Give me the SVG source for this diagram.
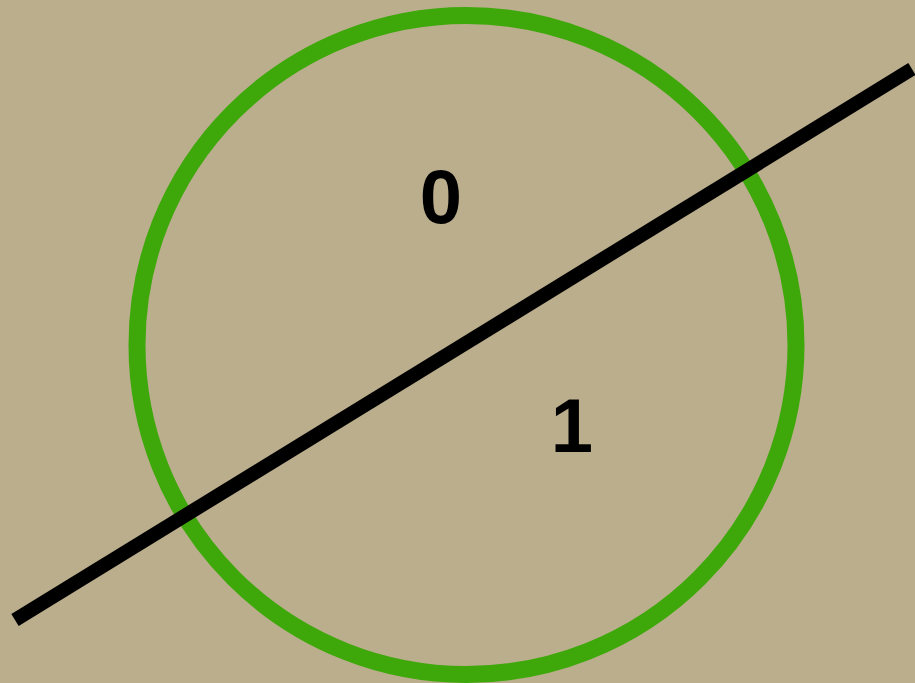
<svg xmlns="http://www.w3.org/2000/svg" width="915" height="683" viewBox="0 0 915 683">
<style>
.lbl{font-family:"Liberation Sans",Arial,sans-serif;font-weight:bold;font-size:76px;fill:#000;text-anchor:middle}
</style>
<rect width="915" height="683" fill="#bbae8d"/>
<g id="circle"><circle cx="466.5" cy="345" r="329.5" fill="none" stroke="#3ea80a" stroke-width="17"/></g>
<g id="connectors"><line x1="15" y1="620" x2="912" y2="69" stroke="#000" stroke-width="14"/></g>
<g id="label0"><text class="lbl" x="441" y="223">0</text></g>
<g id="label1"><text class="lbl" x="572" y="452">1</text></g>
</svg>
